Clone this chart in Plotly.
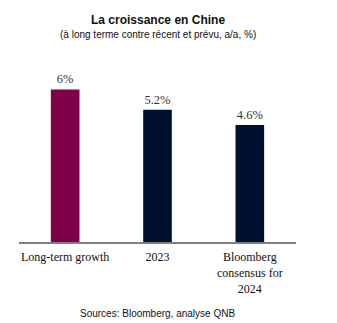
import plotly.graph_objects as go

categories = ["Long-term growth", "2023", "Bloomberg<br>consensus for<br>2024"]
values = [6.0, 5.2, 4.6]
labels = ["6%", "5.2%", "4.6%"]
colors = ["#7E0048", "#00112F", "#00112F"]

W, H = 337, 323
L, R, T, B = 19, 41, 64, 81
ph = H - T - B

def py(px):
    return (H - B - px) / ph

sans = "Liberation Sans, Arial, sans-serif"
serif = "Liberation Serif, Times New Roman, serif"

fig = go.Figure()
fig.add_trace(go.Bar(
    x=categories, y=values, marker=dict(color=colors, line=dict(width=0)),
    width=0.31, text=labels, textposition="outside", cliponaxis=False,
    textfont=dict(family=serif, size=12.5, color="#333333"),
    hoverinfo="skip",
))

fig.update_layout(
    width=W, height=H, margin=dict(l=L, r=R, t=T, b=B),
    paper_bgcolor="white", plot_bgcolor="white", showlegend=False,
    xaxis=dict(showline=True, linecolor="#808080", linewidth=2, ticks="", showgrid=False,
               tickfont=dict(family=serif, size=12, color="#111111"),
               ticklabelstandoff=3,
               range=[-0.5, 2.5]),
    yaxis=dict(visible=False, range=[0, 7.0], showgrid=False, zeroline=False),
    annotations=[
        dict(text="<b>La croissance en Chine</b>", xref="paper", yref="paper", x=0.5, y=py(20),
             showarrow=False, xanchor="center", yanchor="middle",
             font=dict(family=sans, size=12, color="#111111")),
        dict(text="(à long terme contre récent et prévu, a/a, %)", xref="paper", yref="paper", x=0.5, y=py(34),
             showarrow=False, xanchor="center", yanchor="middle",
             font=dict(family=sans, size=10, color="#111111")),
        dict(text="Sources: Bloomberg, analyse QNB", xref="paper", yref="paper", x=0.5, y=py(313),
             showarrow=False, xanchor="center", yanchor="middle",
             font=dict(family=sans, size=10, color="#111111")),
    ],
)

fig.write_html("out.html")
